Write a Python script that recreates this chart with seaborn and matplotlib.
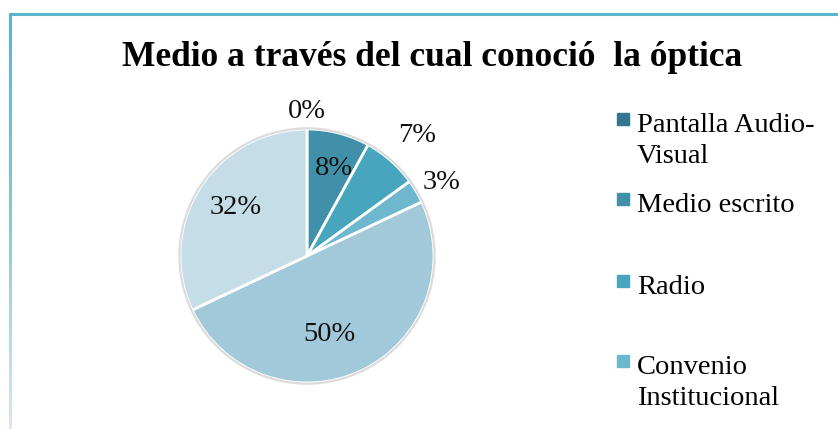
import numpy as np
import matplotlib
matplotlib.use("Agg")
import matplotlib.pyplot as plt
import seaborn as sns
from matplotlib.colors import LinearSegmentedColormap
from matplotlib.lines import Line2D
from matplotlib.patches import Rectangle, Circle

# Survey: how respondents learned about the optician's shop (percent)
legend_labels = ["Pantalla Audio-\nVisual", "Medio escrito", "Radio", "Convenio\nInstitucional"]
shares = [0, 8, 7, 3, 50, 32]
slice_colors = ["#31788e", "#3f90a8", "#47a6be", "#6db8ce", "#a2c9da", "#c4dde6"]
title = "Medio a través del cual conoció  la óptica"

sns.set_theme(style="white")
plt.rcParams["font.family"] = ["Liberation Serif", "DejaVu Serif"]

W, H = 838, 429
fig = plt.figure(figsize=(W / 100, H / 100), dpi=100)
fig.patch.set_facecolor("white")

def fx(px):
    return px / W

def fy(py):
    return 1 - py / H

# chart frame: teal top edge, left edge fading downwards
fig.add_artist(Line2D([fx(9), fx(W)], [fy(14), fy(14)], transform=fig.transFigure,
                      color="#5ab5cb", lw=2.2, solid_capstyle="butt"))
edge_ax = fig.add_axes([fx(9), 0, 3 / W, fy(13)])
fade = LinearSegmentedColormap.from_list("fade", ["#5ab5cb", "#8cc6d8", "#dde5f1"])
edge_ax.imshow(np.linspace(0, 1, 200).reshape(-1, 1), cmap=fade, aspect="auto",
               interpolation="bilinear")
edge_ax.axis("off")

# pie axes: centre (307, 256) px, radius 127 px
R_PX = 127
CX, CY = 307, 256
L = 1.45
side = 2 * L * R_PX
ax = fig.add_axes([fx(CX - side / 2), fy(CY + side / 2), side / W, side / H])
wedges, _ = ax.pie(shares, colors=slice_colors, startangle=90, counterclock=False,
                   radius=1, wedgeprops=dict(edgecolor="white", linewidth=2))
ax.add_patch(Circle((0, 0), 1.005, fill=False, ec="#dcdcdc", lw=1.6, zorder=5))
ax.set_xlim(-L, L)
ax.set_ylim(-L, L)
ax.set_aspect("equal")
ax.axis("off")

# percentage labels: radial distance and small clockwise turn per slice
label_dist = [1.14, 0.72, 1.29, 1.21, 0.64, 0.68]
label_turn = [0, -3, -1, -2, -9, -2]
for w, v, d, s in zip(wedges, shares, label_dist, label_turn):
    ang = np.deg2rad((w.theta1 + w.theta2) / 2 + s)
    ax.text(d * np.cos(ang), d * np.sin(ang), f"{v:.0f}%", ha="center", va="center",
            fontsize=20.5, color="#111111", zorder=6)

fig.text(fx(432), fy(66), title, ha="center", va="baseline", fontsize=25.5,
         fontweight="bold", color="black")

# legend
marker_y = [119, 199, 281, 361]
for lab, col, my in zip(legend_labels, slice_colors, marker_y):
    fig.add_artist(Rectangle((fx(617), fy(my + 6)), 12 / W, 12 / H,
                             transform=fig.transFigure, color=col))
    fig.text(fx(637), fy(my + 13), lab.split("\n")[0], ha="left", va="baseline",
             fontsize=20.5, color="black")
    for k, extra in enumerate(lab.split("\n")[1:], start=1):
        fig.text(fx(637), fy(my + 13 + 31 * k), extra, ha="left", va="baseline",
                 fontsize=20.5, color="black")

fig.savefig("out.png", dpi=100, facecolor="white")
